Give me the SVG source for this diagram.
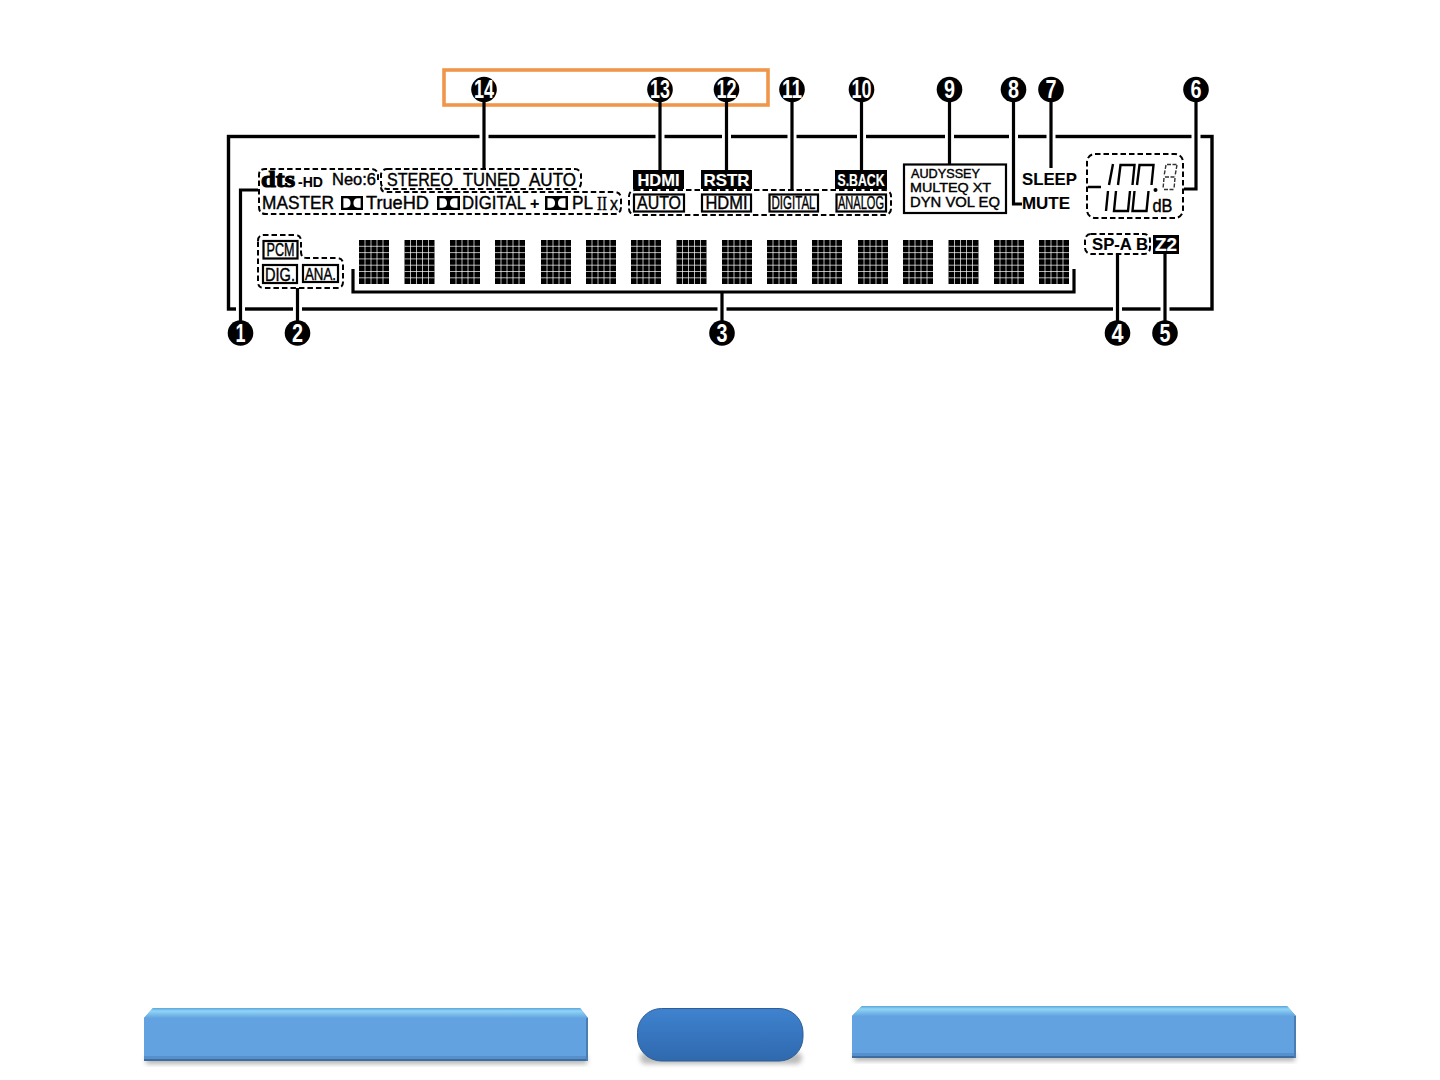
<svg xmlns="http://www.w3.org/2000/svg" width="1440" height="1080" viewBox="0 0 1440 1080">
<style>
text{font-family:"Liberation Sans",Arial,sans-serif;fill:#000;stroke:#000;stroke-width:.4}
.b{font-weight:bold;stroke-width:.1}
.num{font-weight:bold;font-size:25px;fill:#fff;stroke:none;text-anchor:middle}
.w{fill:#fff;stroke:#fff;stroke-width:.2;font-weight:bold}
.dash{fill:none;stroke:#000;stroke-width:2;stroke-dasharray:5.5 3}
.con{fill:none;stroke:#000;stroke-width:3.2}
.halo{stroke:#fff;stroke-width:9;fill:none}
.box{fill:#fff;stroke:#000;stroke-width:2.2}
.seg{fill:none;stroke:#000;stroke-width:2.4;stroke-linecap:butt}
.seg2{fill:none;stroke:#333;stroke-width:1.4}
</style>
<defs>
<symbol id="block" width="30" height="44" viewBox="0 0 30 44" overflow="visible"><rect width="30" height="44" fill="#000"/>
<path d="M6 0V44M12 0V44M18 0V44M24 0V44M0 6.300H30M0 12.600H30M0 18.900H30M0 25.200H30M0 31.500H30M0 37.800H30" stroke="#fff" stroke-width=".7" fill="none"/></symbol>
<symbol id="dolby" width="23" height="15" viewBox="0 0 23 15" preserveAspectRatio="none">
<rect x="0" y="0" width="23" height="15" fill="#000"/>
<path d="M2.500 2.500H5.500Q10 2.500 10 7.500T5.500 12.500H2.500Z" fill="#fff"/>
<path d="M20.500 2.500H17.500Q13 2.500 13 7.500T17.500 12.500H20.500Z" fill="#fff"/>
</symbol>
<linearGradient id="top" x1="0" x2="0" y1="0" y2="1"><stop offset="0" stop-color="#5aa5dc"/><stop offset=".3" stop-color="#90d4f6"/><stop offset="1" stop-color="#62a4e0"/></linearGradient>
<linearGradient id="pill" x1="0" x2="0" y1="0" y2="1"><stop offset="0" stop-color="#3f82cf"/><stop offset="1" stop-color="#2f69ae"/></linearGradient>
<filter id="sh" x="-5%" y="-20%" width="110%" height="150%"><feGaussianBlur stdDeviation="2.5"/></filter>
</defs>
<rect width="1440" height="1080" fill="#fff"/>
<rect id="highlight" x="444" y="70" width="324" height="35" fill="none" stroke="#f0964a" stroke-width="3.6"/>
<rect id="frame" x="228.500" y="136.500" width="983.500" height="172.500" fill="none" stroke="#000" stroke-width="3.4"/>
<g id="connectors">
<path class="halo" d="M484 132V141M660 132V141M726.500 132V141M792 132V141M861.500 132V141M949.500 132V141M1013.500 132V141M1051 132V141M1196 132V141M240.500 305V314M297.500 305V314M722 305V314M1117.500 305V314M1165 305V314"/>
<path class="con" d="M484 90V170M660 90V170M726.500 90V170M792 90V191M861.500 90V170M949.500 90V164M1051 90V168"/>
<path class="con" d="M1013.500 90V204H1022"/>
<path class="con" d="M1196 90V189H1184"/>
<path class="con" d="M1117.500 254V333M1165 254V333M297.500 288V333M722 292V333"/>
<path class="con" d="M258 190H240.500V333"/>
<path class="con" d="M353 269V292H1074V269"/>
</g>
<g id="n1"><circle cx="240.500" cy="333" r="12.800"/><text class="num" x="240.500" y="341.500" textLength="10" lengthAdjust="spacingAndGlyphs">1</text></g>
<g id="n2"><circle cx="297.500" cy="333" r="12.800"/><text class="num" x="297.500" y="341.500" textLength="11" lengthAdjust="spacingAndGlyphs">2</text></g>
<g id="n3"><circle cx="722" cy="333" r="12.800"/><text class="num" x="722" y="341.500" textLength="11" lengthAdjust="spacingAndGlyphs">3</text></g>
<g id="n4"><circle cx="1117.500" cy="333" r="12.800"/><text class="num" x="1117.500" y="341.500" textLength="12" lengthAdjust="spacingAndGlyphs">4</text></g>
<g id="n5"><circle cx="1165" cy="333" r="12.800"/><text class="num" x="1165" y="341.500" textLength="11" lengthAdjust="spacingAndGlyphs">5</text></g>
<g id="n6"><circle cx="1196" cy="89.500" r="12.800"/><text class="num" x="1196" y="98" textLength="11" lengthAdjust="spacingAndGlyphs">6</text></g>
<g id="n7"><circle cx="1051" cy="89.500" r="12.800"/><text class="num" x="1051" y="98" textLength="11" lengthAdjust="spacingAndGlyphs">7</text></g>
<g id="n8"><circle cx="1013.500" cy="89.500" r="12.800"/><text class="num" x="1013.500" y="98" textLength="11" lengthAdjust="spacingAndGlyphs">8</text></g>
<g id="n9"><circle cx="949.500" cy="89.500" r="12.800"/><text class="num" x="949.500" y="98" textLength="11" lengthAdjust="spacingAndGlyphs">9</text></g>
<g id="n10"><circle cx="861.500" cy="89.500" r="12.800"/><text class="num" x="861.500" y="98" textLength="20" lengthAdjust="spacingAndGlyphs">10</text></g>
<g id="n11"><circle cx="792" cy="89.500" r="12.800"/><text class="num" x="792" y="98" textLength="20" lengthAdjust="spacingAndGlyphs">11</text></g>
<g id="n12"><circle cx="726.500" cy="89.500" r="12.800"/><text class="num" x="726.500" y="98" textLength="20" lengthAdjust="spacingAndGlyphs">12</text></g>
<g id="n13"><circle cx="660" cy="89.500" r="12.800"/><text class="num" x="660" y="98" textLength="20" lengthAdjust="spacingAndGlyphs">13</text></g>
<g id="n14"><circle cx="484" cy="89.500" r="12.800"/><text class="num" x="484" y="98" textLength="20" lengthAdjust="spacingAndGlyphs">14</text></g>
<g id="formats">
<path class="dash" d="M378 180V176Q378 169 371 169H265Q259 169 259 175V207Q259 214 266 214H614Q621 214 621 207V199Q621 192 614 192H386Q381 192 381 187"/>
<rect class="dash" x="381" y="169" width="200" height="20" rx="6"/>
<text class="b" x="261" y="186.500" font-size="23" style="font-family:'Liberation Serif',serif;stroke-width:1.100" textLength="34" lengthAdjust="spacingAndGlyphs">dts</text>
<text class="b" x="298" y="187" font-size="14" textLength="25" lengthAdjust="spacingAndGlyphs">-HD</text>
<text x="332" y="185" font-size="16.500" textLength="44" lengthAdjust="spacingAndGlyphs">Neo:6</text>
<text x="387" y="185.500" font-size="18" textLength="66" lengthAdjust="spacingAndGlyphs">STEREO</text>
<text x="463" y="185.500" font-size="18" textLength="57" lengthAdjust="spacingAndGlyphs">TUNED</text>
<text x="529" y="185.500" font-size="18" textLength="47" lengthAdjust="spacingAndGlyphs">AUTO</text>
<text x="262" y="209" font-size="18.500" textLength="72" lengthAdjust="spacingAndGlyphs">MASTER</text>
<use href="#dolby" x="341" y="196" width="22" height="14"/>
<text x="366" y="208.500" font-size="18.500" textLength="63" lengthAdjust="spacingAndGlyphs">TrueHD</text>
<use href="#dolby" x="437" y="196" width="23" height="14"/>
<text x="462" y="209" font-size="18.500" textLength="64" lengthAdjust="spacingAndGlyphs">DIGITAL</text>
<text class="b" x="530" y="209" font-size="16">+</text>
<use href="#dolby" x="545" y="196" width="23" height="14"/>
<text x="572" y="209" font-size="18.500" textLength="21" lengthAdjust="spacingAndGlyphs">PL</text>
<text x="597" y="209.500" font-size="19" style="font-family:'Liberation Serif',serif" textLength="10" lengthAdjust="spacingAndGlyphs">II</text>
<text x="610" y="209.500" font-size="19" textLength="8" lengthAdjust="spacingAndGlyphs">x</text>
</g>
<g id="input">
<path class="dash" d="M258 241Q258 235 264 235H295Q301 235 301 241V252Q301 258 307 258H337Q343 258 343 264V282Q343 288 337 288H264Q258 288 258 282Z"/>
<rect class="box" x="263.500" y="241" width="34" height="17.500"/>
<text x="280.500" y="256" font-size="18" text-anchor="middle" textLength="28" lengthAdjust="spacingAndGlyphs">PCM</text>
<rect class="box" x="263" y="265" width="34" height="18"/>
<text x="280" y="280.500" font-size="18" text-anchor="middle" textLength="30" lengthAdjust="spacingAndGlyphs">DIG.</text>
<rect class="box" x="303" y="265" width="35" height="17"/>
<text x="320.500" y="280" font-size="17" text-anchor="middle" textLength="31" lengthAdjust="spacingAndGlyphs">ANA.</text>
</g>
<g id="matrix">
<use href="#block" x="359" y="240"/><use href="#block" x="404.500" y="240"/><use href="#block" x="450" y="240"/><use href="#block" x="495" y="240"/><use href="#block" x="541" y="240"/><use href="#block" x="586" y="240"/><use href="#block" x="631" y="240"/><use href="#block" x="676.500" y="240"/><use href="#block" x="722" y="240"/><use href="#block" x="767" y="240"/><use href="#block" x="812" y="240"/><use href="#block" x="858" y="240"/><use href="#block" x="903" y="240"/><use href="#block" x="948.500" y="240"/><use href="#block" x="994" y="240"/><use href="#block" x="1039" y="240"/>
</g>
<g id="signal">
<rect x="633" y="170" width="51" height="19"/><text class="w" x="658.500" y="185.500" font-size="17" text-anchor="middle" textLength="42" lengthAdjust="spacingAndGlyphs">HDMI</text>
<rect x="701" y="170" width="51" height="19"/><text class="w" x="726.500" y="185.500" font-size="17" text-anchor="middle" textLength="46" lengthAdjust="spacingAndGlyphs">RSTR</text>
<rect x="835" y="170" width="52" height="19"/><text class="w" x="861" y="185.500" font-size="17" text-anchor="middle" textLength="47" lengthAdjust="spacingAndGlyphs">S.BACK</text>
<rect class="dash" x="629" y="190" width="262" height="25" rx="6"/>
<rect class="box" x="634" y="194.500" width="50" height="17"/><text x="659" y="209" font-size="18" text-anchor="middle" textLength="44" lengthAdjust="spacingAndGlyphs">AUTO</text>
<rect class="box" x="702" y="194.500" width="49" height="17"/><text x="726.500" y="209" font-size="18" text-anchor="middle" textLength="42" lengthAdjust="spacingAndGlyphs">HDMI</text>
<rect class="box" x="769.500" y="194.500" width="48.500" height="17"/><text x="793.500" y="209" font-size="18" text-anchor="middle" textLength="44" lengthAdjust="spacingAndGlyphs">DIGITAL</text>
<rect class="box" x="836.500" y="194.500" width="49.500" height="17"/><text x="861" y="209" font-size="18" text-anchor="middle" textLength="46" lengthAdjust="spacingAndGlyphs">ANALOG</text>
</g>
<g id="audyssey">
<rect class="box" x="904" y="164.500" width="102" height="48.500"/>
<text x="911" y="177.500" font-size="12.500" textLength="69" lengthAdjust="spacingAndGlyphs">AUDYSSEY</text>
<text x="910" y="191.500" font-size="13.500" textLength="81" lengthAdjust="spacingAndGlyphs">MULTEQ XT</text>
<text x="910" y="207" font-size="14" textLength="90" lengthAdjust="spacingAndGlyphs">DYN VOL EQ</text>
</g>
<g id="sleep"><text class="b" x="1022" y="184.500" font-size="16.500" textLength="55" lengthAdjust="spacingAndGlyphs">SLEEP</text></g>
<g id="mute"><text class="b" x="1022" y="209" font-size="17" textLength="48" lengthAdjust="spacingAndGlyphs">MUTE</text></g>
<g id="volume">
<rect class="dash" x="1087" y="154" width="96" height="64" rx="8"/>
<path class="seg" stroke-width="3" d="M1088 187H1101M1113 164L1109 185M1108 191L1106 211"/>
<path class="seg" d="M1118 185L1120.500 165H1134.500L1132.500 185M1116 191L1114 211H1128L1130 191"/>
<path class="seg" d="M1137 185L1139.500 165H1153.500L1151.500 185M1134.500 191L1132.500 211H1146.500L1148.500 191"/>
<circle cx="1155.500" cy="190" r="2"/>
<path class="seg2" stroke-dasharray="4 1.500" d="M1167 164.500H1177M1166 165L1164 176M1177 165L1175 176M1165 177H1175M1164 178L1163 189M1175 178L1174 189M1164 189.500H1174"/>
<text x="1152.500" y="212" font-size="17.500" textLength="20" lengthAdjust="spacingAndGlyphs">dB</text>
</g>
<g id="speakers">
<rect class="dash" x="1085" y="234" width="65" height="20" rx="6"/>
<text class="b" x="1092" y="250" font-size="16.500" textLength="56" lengthAdjust="spacingAndGlyphs" xml:space="preserve">SP-A B</text>
</g>
<g id="zone2"><rect x="1153" y="235" width="26" height="19"/><text class="w" x="1166" y="251" font-size="18" text-anchor="middle" textLength="22" lengthAdjust="spacingAndGlyphs">Z2</text></g>
<g id="bar-left">
<rect x="146" y="1056" width="441" height="8" fill="#777" opacity=".55" filter="url(#sh)"/>
<path d="M144 1018L153 1008H580L588 1018V1061H144Z" fill="#62a2e0"/>
<path d="M144 1018L153 1008H580L588 1018Z" fill="url(#top)"/>
<path d="M144 1059H588V1061H144Z" fill="#3d6d9e"/>
<path d="M144 1056H588V1059H144Z" fill="#5690cc"/>
<path d="M586 1018H588V1061H586Z" fill="#4a7eb3"/>
</g>
<g id="pill-center">
<rect x="640" y="1052" width="162" height="12" rx="6" fill="#777" opacity=".5" filter="url(#sh)"/>
<rect x="637.500" y="1008.500" width="165.500" height="52.500" rx="24" fill="url(#pill)" stroke="#2d5f96" stroke-width="1"/>
</g>
<g id="bar-right">
<rect x="854" y="1053" width="441" height="8" fill="#777" opacity=".55" filter="url(#sh)"/>
<path d="M852 1016L862 1006H1287L1296 1016V1058H852Z" fill="#62a2e0"/>
<path d="M852 1016L862 1006H1287L1296 1016Z" fill="url(#top)"/>
<path d="M852 1056H1296V1058H852Z" fill="#3d6d9e"/>
<path d="M852 1053H1296V1056H852Z" fill="#5690cc"/>
<path d="M1294 1016H1296V1058H1294Z" fill="#4a7eb3"/>
</g>
</svg>
